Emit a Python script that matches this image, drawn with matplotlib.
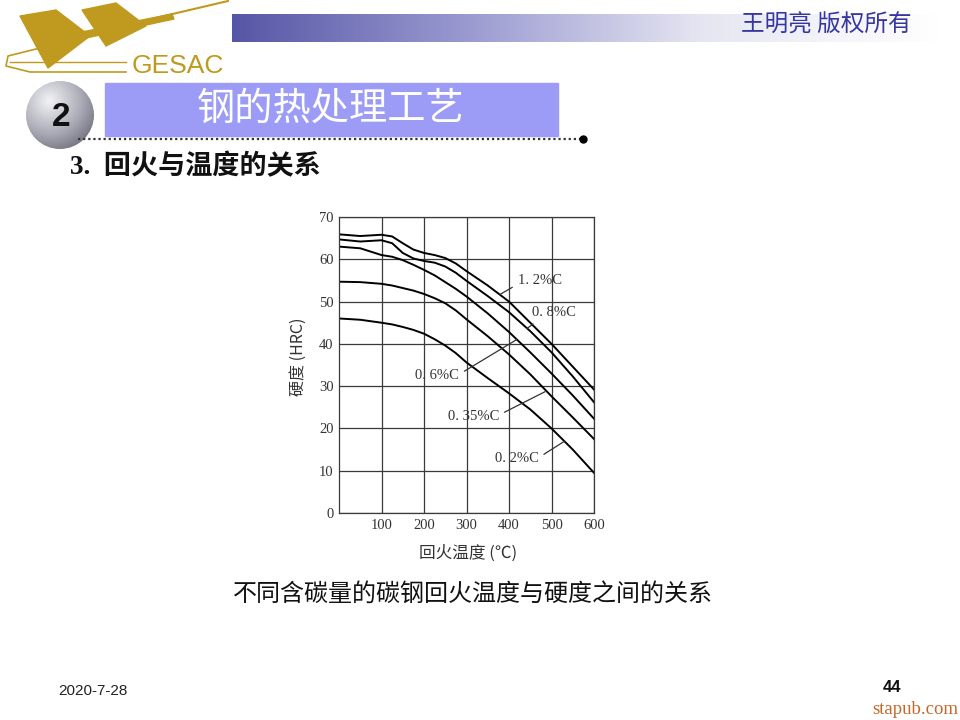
import numpy as np
import matplotlib
matplotlib.use("Agg")
import matplotlib.pyplot as plt
from matplotlib.patches import Rectangle, Circle, Polygon
from matplotlib.colors import LinearSegmentedColormap

# ---- data (tempering temperature vs hardness) ----
temp = [0, 50, 100, 125, 150, 175, 200, 225, 250, 275, 300, 350, 400, 450, 500, 550, 600]
hrc_12 = [65.9, 65.5, 65.8, 65.4, 63.8, 62.3, 61.5, 61.0, 60.3, 59.0, 57.2, 53.8, 50.0, 45.0, 40.0, 34.6, 29.2]
hrc_08 = [64.7, 64.2, 64.5, 63.8, 61.5, 60.2, 59.6, 59.2, 58.3, 56.8, 54.9, 51.3, 47.5, 43.0, 38.0, 32.3, 26.2]
hrc_06 = [63.0, 62.6, 61.0, 60.6, 59.8, 58.7, 57.5, 56.2, 54.6, 53.0, 51.2, 47.2, 42.8, 38.0, 33.0, 27.8, 22.3]
hrc_035 = [54.7, 54.6, 54.2, 53.8, 53.2, 52.6, 51.8, 50.8, 49.6, 47.9, 45.8, 41.8, 37.5, 32.8, 27.6, 22.6, 17.5]
hrc_02 = [46.0, 45.7, 45.0, 44.6, 44.0, 43.3, 42.4, 41.1, 39.6, 37.8, 35.6, 31.9, 28.3, 24.5, 20.0, 15.0, 9.5]

labels = ["1. 2%C", "0. 8%C", "0. 6%C", "0. 35%C", "0. 2%C"]
xticks = [100, 200, 300, 400, 500, 600]
yticks = [0, 10, 20, 30, 40, 50, 60, 70]

CJK = ['Noto Sans CJK SC', 'DejaVu Sans']
SERIF = ['Liberation Serif', 'Noto Sans CJK SC']

fig = plt.figure(figsize=(9.6, 7.2), dpi=100)
fig.patch.set_facecolor('white')

# slide background in pixel coordinates
bg = fig.add_axes([0, 0, 1, 1])
bg.set_xlim(0, 960)
bg.set_ylim(720, 0)
bg.axis('off')

#--- header gradient bar -------------------------------------------------
cm_bar = LinearSegmentedColormap.from_list('bar', ['#5656a6', '#9a9ad0', '#e6e6f2', '#ffffff'])
bg.imshow(np.linspace(0, 1, 256)[None, :], cmap=cm_bar, aspect='auto',
          extent=(232, 940, 42, 14), zorder=1)
bg.text(912, 25, "王明亮 版权所有", ha='right', va='center', fontsize=17,
        color='#3636a0', family=CJK, zorder=3)

#--- logo (rough) --------------------------------------------------------
gold = '#bf9a1e'
bg.add_patch(Polygon([(20, 16), (56, 10), (90, 36), (48, 68)], closed=True, color=gold, zorder=2))
bg.add_patch(Polygon([(82, 10), (116, 3), (146, 26), (106, 46)], closed=True, color=gold, zorder=2))
bg.add_patch(Polygon([(52, 38), (172, 14), (174, 19), (58, 44)], closed=True, color=gold, zorder=2))
bg.plot([100, 228], [31, 1], color=gold, lw=1.5, zorder=2)
bg.plot([126, 30, 6, 8, 40], [72, 72, 66, 56, 48], color=gold, lw=1.2, zorder=2)
bg.plot([10, 126], [62, 62], color=gold, lw=1.0, zorder=2)
bg.text(178, 66, "GESAC", ha='center', va='center', fontsize=19, color=gold,
        family='Liberation Sans', zorder=3)

#--- numbered sphere -----------------------------------------------------
yy, xx = np.mgrid[0:1:200j, 0:1:200j]
shade = np.hypot(xx - 0.35, yy - 0.3)
sphere = bg.imshow(shade, cmap=LinearSegmentedColormap.from_list('sph', ['#f2f2f6', '#a8a8b4', '#50505c']),
                   extent=(25, 95, 150, 80), zorder=2)
circ = Circle((60, 115), 34, transform=bg.transData)
sphere.set_clip_path(circ)
bg.text(61, 117, "2", ha='center', va='center', fontsize=24, weight='bold',
        family='Liberation Sans', color='#111111', zorder=3)

#--- title box -----------------------------------------------------------
bg.add_patch(Rectangle((105, 83), 453, 53, color='#9c9cf6', zorder=2))
bg.text(331, 109, "钢的热处理工艺", ha='center', va='center', fontsize=27.5,
        color='white', family=CJK, zorder=3)
bg.plot([78, 580], [139, 139], color='#333333', lw=1.6, ls=(0, (1, 1.3)), zorder=3)
bg.plot([583], [139], 'o', color='black', ms=5, zorder=3)

bg.text(70, 167, "3.  回火与温度的关系", ha='left', va='center', fontsize=19.5,
        weight='bold', family=SERIF, color='#111111', zorder=3)

#--- footer --------------------------------------------------------------
bg.text(473, 594, "不同含碳量的碳钢回火温度与硬度之间的关系", ha='center', va='center',
        fontsize=17.3, family=CJK, color='#111111')
bg.text(58, 691, "2020-7-28", ha='left', va='center', fontsize=11,
        family='Liberation Sans', color='#222222')
bg.text(892, 688, "44", ha='center', va='center', fontsize=12, weight='bold',
        family='Liberation Sans', color='#111111')
bg.text(958, 710, "stapub.com", ha='right', va='center', fontsize=13.5,
        family='Liberation Serif', color='#c4682a')

# axis titles of the scanned chart
bg.text(298, 357, "硬度 (HRC)", ha='center', va='center', rotation=90, fontsize=11.5,
        family=CJK, color='#333333')
bg.text(468, 553, "回火温度 (℃)", ha='center', va='center', fontsize=12,
        family=CJK, color='#333333')

#--- the chart -----------------------------------------------------------
ax = fig.add_axes([339 / 960, 1 - 513 / 720, 255 / 960, 296 / 720])
ax.set_zorder(5)
ax.set_xlim(0, 600)
ax.set_ylim(0, 70)
ax.set_xticks(xticks)
ax.set_yticks(yticks)
ax.grid(True, color='#3a3a3a', lw=0.9)
ax.tick_params(length=0, labelsize=10.5, labelcolor='#333333', pad=4)
for lab in ax.get_xticklabels() + ax.get_yticklabels():
    lab.set_family('Liberation Serif')
for sp in ax.spines.values():
    sp.set_color('#3a3a3a')
    sp.set_linewidth(0.9)

for series in [hrc_12, hrc_08, hrc_06, hrc_035, hrc_02]:
    ax.plot(temp, series, color='black', lw=1.4, solid_joinstyle='round')

# leader-line labels: (text, point on curve, text position, alignment, arrow start)
notes = [
    (labels[0], (379, 51.7), (420, 55.0), 'left', (0.0, 0.2)),
    (labels[1], (442, 43.6), (455, 47.3), 'left', (0.15, 0.0)),
    (labels[2], (418, 41.0), (283, 32.5), 'right', (1.0, 0.6)),
    (labels[3], (485, 28.7), (377, 22.9), 'right', (1.0, 0.6)),
    (labels[4], (531, 17.0), (470, 12.8), 'right', (1.0, 0.6)),
]
for txt, pt, pos, ha, rel in notes:
    ax.annotate(txt, xy=pt, xytext=pos, ha=ha, va='center', fontsize=10.5,
                family='Liberation Serif', color='#333333',
                arrowprops=dict(arrowstyle='-', color='#333333', lw=0.9,
                                relpos=rel, shrinkA=2, shrinkB=0))

plt.savefig('out.png', dpi=100)
